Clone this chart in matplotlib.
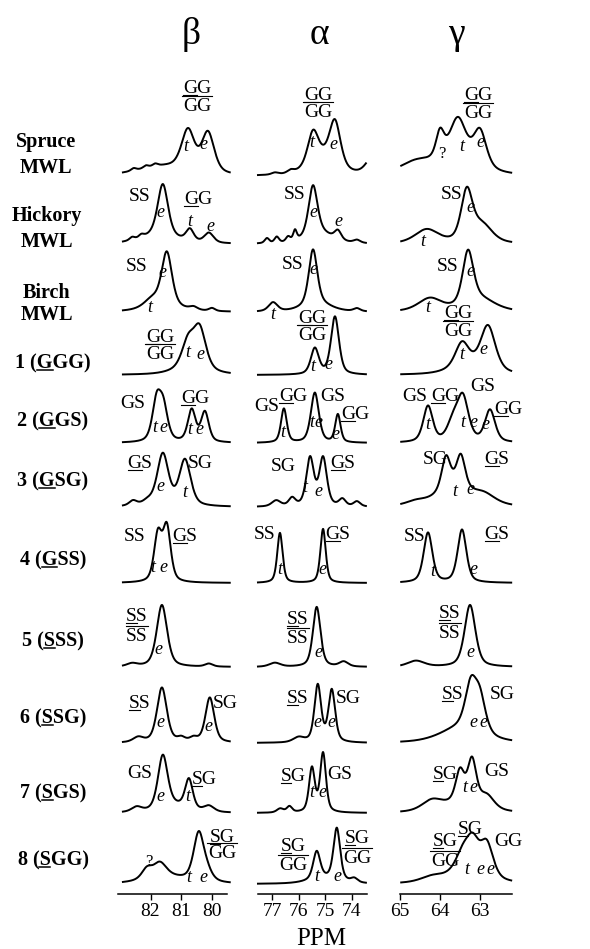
import numpy as np
import matplotlib
matplotlib.use("Agg")
import matplotlib.pyplot as plt
from matplotlib.font_manager import FontProperties
from matplotlib.lines import Line2D
from matplotlib.transforms import Affine2D

# 0. Datos: picos (ppm, altura, semiancho)
carbonos = ["β", "α", "γ"]
muestras = ["Spruce\nMWL", "Hickory\nMWL", "Birch\nMWL", "1 (GGG)", "2 (GGS)",
            "3 (GSG)", "4 (GSS)", "5 (SSS)", "6 (SSG)", "7 (SGS)", "8 (SGG)"]
ticks_beta = [82, 81, 80]
ticks_alpha = [77, 76, 75, 74]
ticks_gamma = [65, 64, 63]

picos_beta = [
    [(81.6, 9, 1.0), (80.78, 40, 0.25), (80.13, 40, 0.24), (82.55, 2.5, 0.1), (82.15, 2.5, 0.1), (81.85, 2.5, 0.1)],
    [(81.6, 52, 0.2), (81.75, 8, 0.7), (80.72, 12, 0.15), (80.1, 10, 0.18), (82.6, 3, 0.1), (82.3, 3, 0.1)],
    [(81.47, 54, 0.2), (81.95, 8, 0.3), (81.6, 5, 0.7), (80.6, 3, 0.15), (80.0, 3, 0.12)],
    [(80.78, 26, 0.24), (80.4, 40, 0.24), (80.7, 6, 0.6)],
    [(81.8, 40, 0.17), (81.58, 32, 0.17), (80.66, 32, 0.15), (80.23, 30, 0.15)],
    [(81.6, 52, 0.22), (80.88, 46, 0.22), (82.57, 5, 0.15), (82.1, 4, 0.2)],
    [(81.76, 47, 0.15), (81.47, 54, 0.15)],
    [(81.63, 62, 0.2), (82.6, 3, 0.2), (80.1, 3, 0.15)],
    [(81.63, 55, 0.19), (80.07, 45, 0.17), (82.4, 5, 0.2), (81.0, 4, 0.15), (80.6, 4, 0.15)],
    [(81.6, 54, 0.19), (80.75, 30, 0.15), (81.2, 6, 0.5), (80.1, 6, 0.2), (82.45, 5, 0.2)],
    [(82.12, 10, 0.2), (81.7, 14, 0.25), (81.5, 7, 0.8), (80.43, 48, 0.2), (80.15, 8, 0.2)],
]
picos_alpha = [
    [(75.46, 32, 0.24), (74.63, 45, 0.25), (75.1, 16, 0.6), (73.2, 18, 0.3), (76.9, 2, 0.15), (76.3, 3, 0.15)],
    [(75.46, 50, 0.2), (74.52, 9, 0.15), (75.2, 10, 0.6), (76.14, 10, 0.08), (76.4, 5, 0.1),
     (76.83, 6, 0.1), (77.2, 5, 0.1), (73.8, 3, 0.15)],
    [(76.97, 9, 0.2), (75.46, 55, 0.19), (75.3, 8, 0.6), (73.8, 3, 0.15)],
    [(75.39, 26, 0.18), (74.63, 58, 0.18)],
    [(76.56, 34, 0.13), (75.39, 50, 0.18), (74.52, 28, 0.12)],
    [(75.57, 48, 0.17), (75.08, 48, 0.17), (76.85, 6, 0.2), (76.25, 8, 0.15), (74.35, 7, 0.15), (73.8, 5, 0.15)],
    [(76.71, 50, 0.12), (75.08, 54, 0.12)],
    [(75.32, 60, 0.17), (76.9, 4, 0.25), (74.3, 5, 0.2)],
    [(75.28, 57, 0.15), (74.75, 52, 0.15), (76.0, 5, 0.25)],
    [(75.5, 44, 0.13), (75.08, 59, 0.13), (76.35, 6, 0.12), (76.7, 4, 0.15)],
    [(75.32, 28, 0.16), (74.56, 52, 0.15), (73.9, 4, 0.15), (75.0, 5, 0.7)],
]
picos_gamma = [
    [(64.6, 12, 0.5), (64.0, 26, 0.12), (63.55, 40, 0.24), (63.0, 36, 0.19), (63.6, 15, 0.6)],
    [(64.33, 14, 0.35), (63.33, 50, 0.17), (62.95, 18, 0.3)],
    [(64.25, 13, 0.35), (63.3, 53, 0.16), (63.0, 12, 0.45)],
    [(63.45, 24, 0.2), (62.8, 45, 0.22), (63.3, 8, 0.5)],
    [(64.3, 36, 0.14), (63.43, 44, 0.17), (63.68, 18, 0.17), (62.75, 32, 0.15)],
    [(63.85, 33, 0.13), (63.48, 33, 0.13), (63.66, 18, 0.5), (62.9, 10, 0.35), (64.6, 4, 0.3)],
    [(64.3, 50, 0.13), (63.45, 53, 0.13)],
    [(63.25, 62, 0.16), (64.6, 6, 0.25)],
    [(63.23, 44, 0.17), (63.0, 34, 0.17), (63.5, 14, 0.6)],
    [(63.5, 32, 0.13), (63.2, 44, 0.13), (62.83, 13, 0.22), (64.2, 10, 0.3), (63.5, 8, 0.6)],
    [(63.43, 20, 0.22), (63.18, 30, 0.19), (62.83, 34, 0.19), (64.2, 5, 0.35), (63.4, 8, 0.6)],
]

# etiquetas de picos: (x, y base, texto, estilo) u=subrayado, o=barra encima, i=italica
etiquetas = [
    (197, 93, "GG", "u"), (197, 111, "GG", "o"), (186, 151, "t", "i"), (203, 149, "e", "i"),
    (318, 100, "GG", "u"), (318, 117, "GG", "o"), (312, 147, "t", "i"), (333, 149, "e", "i"),
    (478, 100, "GG", "u"), (478, 118, "GG", "o"), (442, 158, "?", "q"), (462, 151, "t", "i"), (480, 147, "e", "i"),
    (140, 201, "SS", "r"), (160, 217, "e", "i"), (198, 204, "GG", "u"), (190, 226, "t", "i"), (210, 231, "e", "i"),
    (295, 199, "SS", "r"), (313, 217, "e", "i"), (338, 226, "e", "i"),
    (452, 199, "SS", "r"), (470, 212, "e", "i"), (423, 246, "t", "i"),
    (137, 271, "SS", "r"), (162, 277, "e", "i"), (150, 312, "t", "i"),
    (293, 269, "SS", "r"), (313, 274, "e", "i"), (273, 319, "t", "i"),
    (448, 271, "SS", "r"), (470, 276, "e", "i"), (428, 312, "t", "i"),
    (160, 342, "GG", "u"), (160, 359, "GG", "o"), (188, 357, "t", "i"), (200, 359, "e", "i"),
    (312, 323, "GG", "u"), (312, 340, "GG", "o"), (313, 371, "t", "i"), (328, 369, "e", "i"),
    (458, 318, "GG", "u"), (458, 336, "GG", "o"), (462, 359, "t", "i"), (483, 354, "e", "i"),
    (133, 408, "GS", "r"), (155, 432, "t", "i"), (163, 432, "e", "i"), (195, 403, "GG", "u"),
    (190, 434, "t", "i"), (199, 434, "e", "i"),
    (267, 411, "GS", "r"), (293, 401, "GG", "u"), (333, 401, "GS", "r"), (355, 419, "GG", "u"),
    (283, 437, "t", "i"), (312, 427, "t", "i"), (318, 427, "e", "i"), (335, 439, "e", "i"),
    (415, 401, "GS", "r"), (445, 401, "GG", "u"), (483, 391, "GS", "r"), (508, 414, "GG", "u"),
    (428, 429, "t", "i"), (463, 427, "t", "i"), (473, 427, "e", "i"), (485, 429, "e", "i"),
    (140, 468, "GS", "u"), (200, 468, "SG", "r"), (160, 491, "e", "i"), (185, 497, "t", "i"),
    (283, 471, "SG", "r"), (343, 468, "GS", "u"), (305, 492, "t", "i"), (318, 496, "e", "i"),
    (435, 464, "SG", "r"), (497, 464, "GS", "u"), (455, 496, "t", "i"), (470, 494, "e", "i"),
    (135, 541, "SS", "r"), (185, 541, "GS", "u"), (153, 572, "t", "i"), (163, 572, "e", "i"),
    (265, 539, "SS", "r"), (338, 539, "GS", "u"), (280, 574, "t", "i"), (322, 574, "e", "i"),
    (415, 541, "SS", "r"), (497, 539, "GS", "u"), (433, 576, "t", "i"), (473, 574, "e", "i"),
    (137, 621, "SS", "u"), (137, 641, "SS", "o"), (158, 654, "e", "i"),
    (298, 624, "SS", "u"), (298, 643, "SS", "o"), (318, 657, "e", "i"),
    (450, 618, "SS", "u"), (450, 638, "SS", "o"), (470, 657, "e", "i"),
    (140, 708, "SS", "u"), (225, 708, "SG", "r"), (160, 727, "e", "i"), (208, 731, "e", "i"),
    (298, 703, "SS", "u"), (348, 703, "SG", "r"), (317, 727, "e", "i"), (331, 727, "e", "i"),
    (453, 699, "SS", "u"), (502, 699, "SG", "r"), (473, 727, "e", "i"), (483, 727, "e", "i"),
    (140, 778, "GS", "r"), (160, 801, "e", "i"), (204, 784, "SG", "u"), (188, 801, "t", "i"),
    (293, 781, "SG", "u"), (340, 779, "GS", "r"), (312, 797, "t", "i"), (322, 797, "e", "i"),
    (445, 779, "SG", "u"), (497, 776, "GS", "r"), (465, 792, "t", "i"), (473, 792, "e", "i"),
    (222, 842, "SG", "u"), (222, 858, "GG", "o"), (149, 866, "?", "q"), (189, 882, "t", "i"), (203, 882, "e", "i"),
    (293, 851, "SG", "u"), (293, 870, "GG", "o"), (357, 843, "SG", "u"), (357, 863, "GG", "o"),
    (317, 881, "t", "i"), (337, 881, "e", "i"),
    (445, 846, "SG", "u"), (445, 866, "GG", "o"), (470, 834, "SG", "u"), (508, 846, "GG", "r"),
    (467, 874, "t", "i"), (480, 874, "e", "i"), (490, 874, "e", "i"),
]

# 1. Layout en pixeles (origen arriba a la izquierda)
W, H = 590, 949
EJE_Y = 894
base_filas = [176, 244, 312, 375, 443, 507, 583, 667, 743, 813, 884]
pos_muestras = [[(46, 147), (46, 173)], [(47, 221), (47, 247)], [(47, 298), (47, 320)],
                [(53, 368)], [(53, 426)], [(53, 486)], [(53, 565)], [(53, 646)],
                [(53, 723)], [(53, 798)], [(53, 865)]]
columnas = [
    dict(px=(118, 227), lim=(83.06, 79.51), span=(82.90, 79.42), ticks=ticks_beta, picos=picos_beta, hx=191),
    dict(px=(257.7, 366.7), lim=(77.55, 73.43), span=(77.54, 73.46), ticks=ticks_alpha, picos=picos_alpha, hx=319),
    dict(px=(400, 512), lim=(65.0, 62.2), span=(64.97, 62.22), ticks=ticks_gamma, picos=picos_gamma, hx=456),
]

SERIF = "Liberation Serif"
plt.rcParams["font.family"] = [SERIF, "DejaVu Serif"]

fig = plt.figure(figsize=(W / 100, H / 100), dpi=100)
pix = Affine2D().scale(1, -1).translate(0, H)


def espectro(x, picos):
    y = np.zeros_like(x)
    for c, h, w in picos:
        u = (x - c) / w
        y += h * (0.5 * np.exp(-np.log(2) * u ** 2) + 0.5 / (1 + u ** 2))
    return y


for col, nombre in zip(columnas, carbonos):
    x0, x1 = col["px"]
    ax = fig.add_axes([x0 / W, 1 - EJE_Y / H, (x1 - x0) / W, EJE_Y / H])
    ax.set_xlim(*col["lim"])
    ax.set_ylim(EJE_Y, 0)
    ax.patch.set_visible(False)
    for s in ["top", "left", "right"]:
        ax.spines[s].set_visible(False)
    ax.spines["bottom"].set_linewidth(1.1)
    ax.set_yticks([])
    ax.set_xticks(col["ticks"])
    ax.tick_params(axis="x", direction="out", length=4.5, width=1, pad=2, labelsize=14)
    xs = np.linspace(col["span"][0], col["span"][1], 600)
    for base, picos in zip(base_filas, col["picos"]):
        ax.plot(xs, base - espectro(xs, picos), color="k", lw=1.4, clip_on=False)
    fig.text(col["hx"], 44, nombre, transform=pix, ha="center", va="baseline", fontsize=27)

fig.text(321, 945, "PPM", transform=pix, ha="center", va="baseline", fontsize=18)

renderer = fig.canvas.get_renderer()


def ancho(s, fp):
    return renderer.get_text_width_height_descent(s, fp, ismath=False)[0]


def texto(x, y, s, fp, sub=None, barra=False, lw=0.8):
    w = ancho(s, fp)
    izq = x - w / 2
    fig.text(izq, y, s, transform=pix, ha="left", va="baseline", fontproperties=fp)
    if sub is not None:
        b = izq + ancho(s[:sub + 1], fp)
        a = b - ancho(s[sub], fp)
        fig.add_artist(Line2D([a, b], [y + 2, y + 2], transform=pix, color="k", lw=lw))
    if barra:
        cap = 0.655 * fp.get_size_in_points() * 100 / 72
        yb = y - cap - 2.5
        fig.add_artist(Line2D([izq - 0.5, izq + w + 0.5], [yb, yb], transform=pix, color="k", lw=lw))


fp_r = FontProperties(family=SERIF, size=14)
fp_i = FontProperties(family=SERIF, size=13, style="italic")
fp_q = FontProperties(family=SERIF, size=12)
fp_b = FontProperties(family=SERIF, size=14.5, weight="bold")

for x, y, s, est in etiquetas:
    if est == "i":
        texto(x, y, s, fp_i)
    elif est == "q":
        texto(x, y, s, fp_q)
    elif est == "u":
        texto(x, y, s, fp_r, sub=0)
    elif est == "o":
        texto(x, y, s, fp_r, barra=True)
    else:
        texto(x, y, s, fp_r)

for nombre, pos in zip(muestras, pos_muestras):
    lineas = nombre.split("\n")
    for linea, (x, y) in zip(lineas, pos):
        texto(x, y, linea, fp_b, sub=3 if "(" in linea else None, lw=1.1)

fig.savefig("out.png", dpi=100)
